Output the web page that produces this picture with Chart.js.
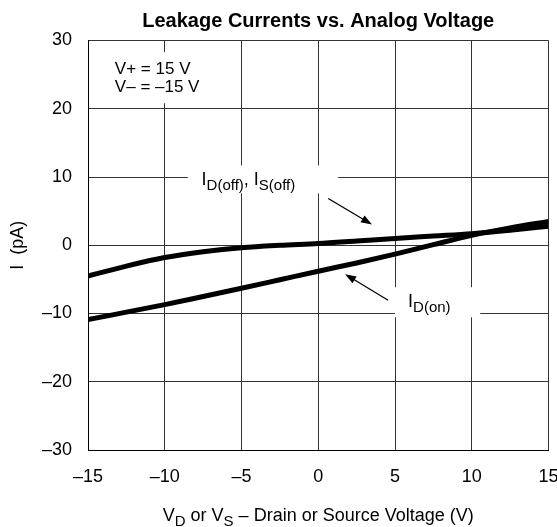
<!DOCTYPE html>
<html>
<head>
<meta charset="utf-8">
<script src="https://cdn.jsdelivr.net/npm/chart.js@4/dist/chart.umd.min.js"></script>
<style>
  html, body { margin: 0; padding: 0; background: #fff; }
  #wrap { width: 557px; height: 527px; }
</style>
</head>
<body>
<div id="wrap"><canvas id="chart" width="557" height="527"></canvas></div>
<script>
let voltage = [-15, -12.5, -10, -7.5, -5, -2.5, 0, 2.5, 5, 7.5, 10, 12.5, 15];
let offLeakage = [-4.5, -3.05, -1.8, -0.95, -0.35, 0.0, 0.25, 0.62, 1.0, 1.35, 1.7, 2.2, 2.8];
let onLeakage = [-10.9, -9.8, -8.7, -7.5, -6.3, -5.05, -3.8, -2.6, -1.3, 0.1, 1.45, 2.55, 3.5];
let xTickValues = [-15, -10, -5, 0, 5, 10, 15];
let yTickValues = [-30, -20, -10, 0, 10, 20, 30];

let chartTitle = 'Leakage Currents vs. Analog Voltage';
let yTitle = 'I  (pA)';
let xTitleParts = [['V', false], ['D', true], [' or V', false], ['S', true], [' \u2013 Drain or Source Voltage (V)', false]];
let supplyNote = ['V+ = 15 V', 'V\u2013 = \u201315 V'];
let offLabelParts = [['I', false], ['D(off)', true], [', I', false], ['S(off)', true]];
let onLabelParts = [['I', false], ['D(on)', true]];

// label boxes, text anchors and arrows, all in data units (x1, y1, x2, y2)
let noteBox = [-13.9, 28.3, -7.4, 20.8];
let noteAt = [-13.25, 25.15, 22.45];
let offBox = [-8.5, 11.7, 1.3, 7.6];
let offAt = [-7.6, 8.8];
let offArrow = [0.65, 6.85, 3.5, 3.05];
let onBox = [5.0, -6.15, 10.55, -10.55];
let onAt = [5.85, -9.1];
let onArrow = [4.55, -8.05, 1.75, -4.25];

let FONT = 'Arial, "Liberation Sans", Helvetica, sans-serif';

function dash(v) {
    return v < 0 ? '\u2013' + Math.abs(v) : String(v);
}

function richWidth(ctx, parts, size, subSize) {
    let w = 0;
    parts.forEach(function(p) {
        ctx.font = (p[1] ? subSize : size) + 'px ' + FONT;
        w += ctx.measureText(p[0]).width;
    });
    return w;
}

function drawRich(ctx, x, y, parts, size, subSize, subDrop) {
    ctx.textAlign = 'left';
    ctx.textBaseline = 'alphabetic';
    parts.forEach(function(p) {
        ctx.font = (p[1] ? subSize : size) + 'px ' + FONT;
        ctx.fillText(p[0], x, p[1] ? y + subDrop : y);
        x += ctx.measureText(p[0]).width;
    });
}

function drawArrow(ctx, x1, y1, x2, y2) {
    let ang = Math.atan2(y2 - y1, x2 - x1);
    let len = 11, half = 4;
    ctx.strokeStyle = '#000';
    ctx.lineWidth = 1.3;
    ctx.beginPath();
    ctx.moveTo(x1, y1);
    ctx.lineTo(x2 - Math.cos(ang) * len * 0.8, y2 - Math.sin(ang) * len * 0.8);
    ctx.stroke();
    ctx.fillStyle = '#000';
    ctx.beginPath();
    ctx.moveTo(x2, y2);
    ctx.lineTo(x2 - Math.cos(ang) * len - Math.sin(ang) * half, y2 - Math.sin(ang) * len + Math.cos(ang) * half);
    ctx.lineTo(x2 - Math.cos(ang) * len + Math.sin(ang) * half, y2 - Math.sin(ang) * len - Math.cos(ang) * half);
    ctx.closePath();
    ctx.fill();
}

let notesPlugin = {
    id: 'notes',
    beforeDatasetsDraw: function(chart) {
        let ctx = chart.ctx;
        let xs = chart.scales.x, ys = chart.scales.y;
        ctx.save();
        ctx.fillStyle = '#fff';
        [noteBox, offBox, onBox].forEach(function(b) {
            let x1 = xs.getPixelForValue(b[0]), y1 = ys.getPixelForValue(b[1]);
            let x2 = xs.getPixelForValue(b[2]), y2 = ys.getPixelForValue(b[3]);
            ctx.fillRect(x1, y1, x2 - x1, y2 - y1);
        });
        ctx.restore();
    },
    afterDraw: function(chart) {
        let ctx = chart.ctx;
        let xs = chart.scales.x, ys = chart.scales.y;
        let area = chart.chartArea;
        ctx.save();
        ctx.fillStyle = '#000';

        // title
        ctx.font = 'bold 20px ' + FONT;
        ctx.textAlign = 'center';
        ctx.textBaseline = 'middle';
        ctx.fillText(chartTitle, (area.left + area.right) / 2, 21);

        // x axis title with subscripts
        let w = richWidth(ctx, xTitleParts, 18, 15);
        drawRich(ctx, (area.left + area.right) / 2 - w / 2, 521, xTitleParts, 18, 15, 5);

        // supply note
        ctx.font = '17px ' + FONT;
        ctx.textAlign = 'left';
        ctx.textBaseline = 'alphabetic';
        ctx.fillText(supplyNote[0], xs.getPixelForValue(noteAt[0]), ys.getPixelForValue(noteAt[1]));
        ctx.fillText(supplyNote[1], xs.getPixelForValue(noteAt[0]), ys.getPixelForValue(noteAt[2]));

        drawRich(ctx, xs.getPixelForValue(offAt[0]), ys.getPixelForValue(offAt[1]), offLabelParts, 18, 15, 5);
        drawRich(ctx, xs.getPixelForValue(onAt[0]), ys.getPixelForValue(onAt[1]), onLabelParts, 18, 15, 5);

        [offArrow, onArrow].forEach(function(a) {
            drawArrow(ctx, xs.getPixelForValue(a[0]), ys.getPixelForValue(a[1]),
                      xs.getPixelForValue(a[2]), ys.getPixelForValue(a[3]));
        });
        ctx.restore();
    }
};

function toPoints(xv, yv) {
    return xv.map(function(x, i) { return { x: x, y: yv[i] }; });
}

let ctx = document.getElementById('chart').getContext('2d');
let chartInstance = new Chart(ctx, {
    type: 'scatter',
    data: {
        datasets: [{
            label: 'ID(off), IS(off)',
            data: toPoints(voltage, offLeakage),
            showLine: true,
            borderColor: '#000',
            borderWidth: 5,
            pointRadius: 0,
            cubicInterpolationMode: 'monotone'
        }, {
            label: 'ID(on)',
            data: toPoints(voltage, onLeakage),
            showLine: true,
            borderColor: '#000',
            borderWidth: 5,
            pointRadius: 0,
            cubicInterpolationMode: 'monotone'
        }]
    },
    options: {
        responsive: false,
        animation: false,
        layout: { padding: { top: 40.5, right: 8.5, bottom: 0, left: 0 } },
        plugins: {
            legend: { display: false },
            tooltip: { enabled: false },
            title: { display: false }
        },
        scales: {
            x: {
                type: 'linear',
                min: -15,
                max: 15,
                afterBuildTicks: function(scale) {
                    scale.ticks = xTickValues.map(function(v) { return { value: v }; });
                },
                afterFit: function(scale) {
                    scale.height = 77;
                    scale.paddingLeft = 0;
                    scale.paddingRight = 0;
                },
                grid: { color: '#333', lineWidth: 1, drawTicks: false },
                border: { color: '#000', width: 1 },
                ticks: {
                    padding: 16,
                    color: '#000',
                    font: { family: FONT, size: 18 },
                    maxRotation: 0,
                    callback: function(v) { return dash(v); }
                }
            },
            y: {
                type: 'linear',
                min: -30,
                max: 30,
                afterBuildTicks: function(scale) {
                    scale.ticks = yTickValues.map(function(v) { return { value: v }; });
                },
                afterFit: function(scale) {
                    scale.width = 88;
                    scale.paddingTop = 0;
                    scale.paddingBottom = 0;
                },
                grid: { color: '#333', lineWidth: 1, drawTicks: false },
                border: { color: '#000', width: 1 },
                title: {
                    display: true,
                    text: yTitle,
                    color: '#000',
                    font: { family: FONT, size: 18 },
                    padding: { top: 7, bottom: 0 }
                },
                ticks: {
                    padding: 16,
                    color: '#000',
                    font: { family: FONT, size: 18 },
                    callback: function(v) { return dash(v); }
                }
            }
        }
    },
    plugins: [notesPlugin]
});
</script>
</body>
</html>
